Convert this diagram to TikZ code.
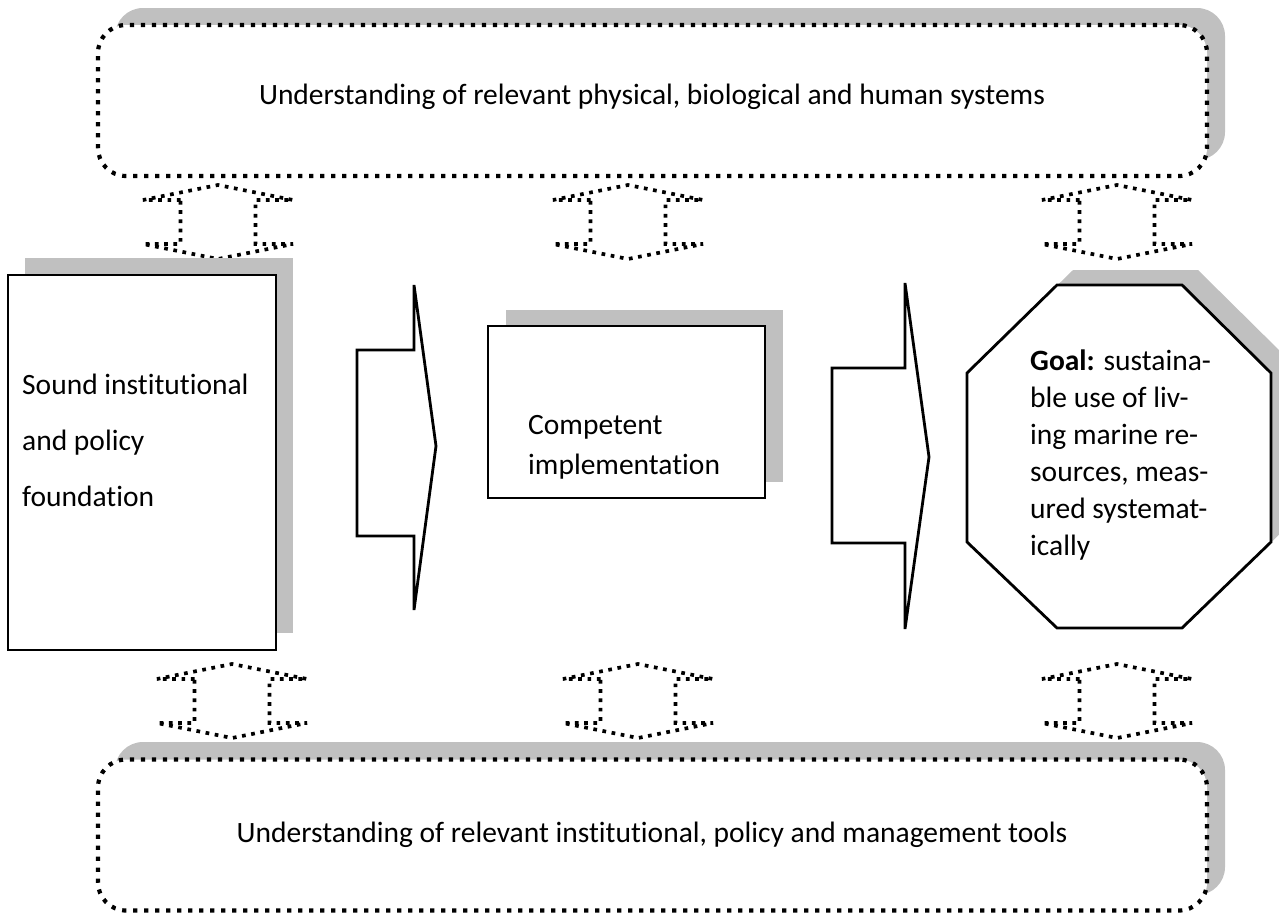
\documentclass[tikz,border=0pt]{standalone}
\usepackage{fontspec}
\setmainfont{Carlito}[Ligatures={NoCommon}]
\definecolor{shadowgray}{HTML}{C0C0C0}
\begin{document}
\begin{tikzpicture}[x=1pt,y=-1pt,
  every node/.style={font=\fontsize{29.5}{34}\selectfont},
  dotline/.style={line width=4.2pt, dash pattern=on 4.2pt off 6.8pt},
  arrowdots/.style={line width=3.7pt, dash pattern=on 3.7pt off 5.6pt},
  solidline/.style={line width=2.8pt, line join=miter},
  shadowfill/.style={fill=shadowgray, draw=none},
  plainbox/.style={solidline, draw, fill=white, inner sep=0pt},
  roundbox/.style={dotline, draw, fill=white, rounded corners=28pt, inner sep=0pt, minimum width=1109pt, minimum height=151pt},
  txt/.style={inner sep=0pt, align=left, anchor=west},
  updown/.pic={\draw[arrowdots] (-37.5,-22) -- (-75,-22) -- (0,-37) -- (75,-22) -- (37.5,-22) -- (37.5,22) -- (75,22) -- (0,37) -- (-75,22) -- (-37.5,22) -- cycle;}
]
\useasboundingbox (0,0) rectangle (1279,913);

% top box
\fill[shadowfill, rounded corners=28pt] (115,8) rectangle (1225,160);
\node[roundbox] (topbox) at (652.5,100.5) {};
\node[inner sep=0pt] (toptext) at (652,97) {Understanding of relevant physical, biological and human systems};

% bottom box
\fill[shadowfill, rounded corners=28pt] (115,742) rectangle (1225,895);
\node[roundbox] (botbox) at (652.5,835) {};
\node[inner sep=0pt] (bottext) at (652,835) {Understanding of relevant institutional, policy and management tools};

% up-down arrows
\pic at (218,222) {updown};
\pic at (628,222) {updown};
\pic at (1117,222) {updown};
\pic at (232,701) {updown};
\pic at (638,701) {updown};
\pic at (1117,701) {updown};

% left box
\fill[shadowfill] (25,258) rectangle (293,633);
\node[plainbox, minimum width=268pt, minimum height=375pt] (sound) at (142,462.5) {};
\node[txt, font=\fontsize{29.5}{56}\selectfont] (soundtxt) at (22,440) {Sound institutional\\and policy\\foundation};

% middle box
\fill[shadowfill] (506,310) rectangle (783,482);
\node[plainbox, minimum width=277pt, minimum height=172pt] (impl) at (626.5,412) {};
\node[txt, font=\fontsize{29.5}{40}\selectfont] (impltxt) at (528,447) {Competent\\implementation};

% block arrows
\draw[solidline, fill=white] (357,350) -- (414,350) -- (414,285) -- (436,446) -- (414,610) -- (414,536) -- (357,536) -- cycle;
\draw[solidline, fill=white] (832,368) -- (905,368) -- (905,283) -- (929,457) -- (905,629) -- (905,543) -- (832,543) -- cycle;

% octagon goal
\fill[shadowfill, shift={(16,-15)}] (1057,285) -- (1182,285) -- (1271,373) -- (1271,542) -- (1182,628) -- (1057,628) -- (967,542) -- (967,373) -- cycle;
\draw[solidline, fill=white] (1057,285) -- (1182,285) -- (1271,373) -- (1271,542) -- (1182,628) -- (1057,628) -- (967,542) -- (967,373) -- cycle;
\node[txt, font=\fontsize{29.5}{37}\selectfont] (goal) at (1030,455) {\textbf{Goal:} sustaina-\\ble use of liv-\\ing marine re-\\sources, meas-\\ured systemat-\\ically};
\end{tikzpicture}
\end{document}
